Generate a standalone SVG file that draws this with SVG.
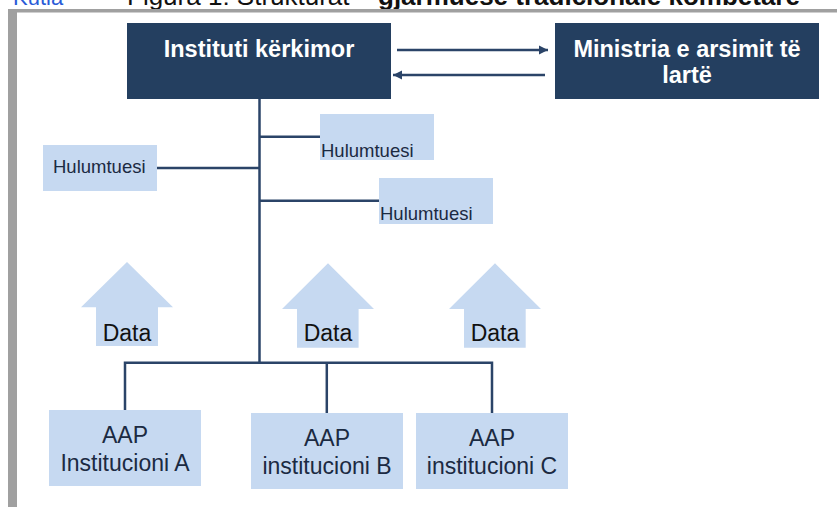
<svg xmlns="http://www.w3.org/2000/svg" width="837" height="507" viewBox="0 0 837 507">
<defs>
<style>
.frame{fill:#a0a0a0}
.dark{fill:#243f60}
.light{fill:#c6d9f1}
.conn{stroke:#2b4468;stroke-width:2.5;fill:none}
.tw{font-family:"Liberation Sans",Arial,sans-serif;font-weight:bold;font-size:23.5px;fill:#ffffff;text-anchor:middle}
.th{font-family:"Liberation Sans",Arial,sans-serif;font-size:18.5px;fill:#1b2a42}
.tb{font-family:"Liberation Sans",Arial,sans-serif;font-size:23px;fill:#1b2a42;text-anchor:middle}
.td{font-family:"Liberation Sans",Arial,sans-serif;font-size:23px;fill:#111111;text-anchor:middle}
.cap{font-family:"Liberation Sans",Arial,sans-serif;font-size:26px;fill:#111111}
</style>
<marker id="ah" markerUnits="userSpaceOnUse" markerWidth="10" markerHeight="10" refX="9" refY="5" orient="auto">
<path d="M0,0.5 L9,5 L0,9.5 z" fill="#2b4468"/>
</marker>
</defs>
<rect width="837" height="507" fill="#ffffff"/>
<g id="caption">
<text x="13" y="4.5" class="cap" style="fill:#2a5bd7;font-size:22px">Kutia</text>
<text x="127" y="4.5" class="cap">Figura 1: Strukturat <tspan x="378" font-weight="bold">gjarmuese tradicionale kombëtare</tspan></text>
</g>
<g id="frame">
<rect x="8" y="9" width="829" height="3.5" class="frame"/>
<rect x="8" y="9" width="9" height="498" class="frame"/>
</g>
<g id="connectors">
<line x1="397" y1="50" x2="548" y2="50" class="conn" marker-end="url(#ah)"/>
<line x1="545" y1="75" x2="393" y2="75" class="conn" marker-end="url(#ah)"/>
<line x1="259.5" y1="99" x2="259.5" y2="362.7" class="conn"/>
<line x1="259.5" y1="136.7" x2="320" y2="136.7" class="conn"/>
<line x1="157" y1="168" x2="259.5" y2="168" class="conn"/>
<line x1="259.5" y1="200.7" x2="379" y2="200.7" class="conn"/>
<polyline points="125,410 125,362.7 492,362.7 492,413" class="conn"/>
<line x1="326.8" y1="362.7" x2="326.8" y2="413" class="conn"/>
</g>
<g id="instituti">
<rect x="127" y="23" width="264" height="76" class="dark"/>
<text x="259" y="57" class="tw">Instituti kërkimor</text>
</g>
<g id="ministria">
<rect x="555" y="23" width="264" height="76" class="dark"/>
<text x="687" y="57" class="tw">Ministria e arsimit të</text>
<text x="687" y="83" class="tw">lartë</text>
</g>
<g id="hulumtuesi-1">
<rect x="43" y="145" width="114" height="46" class="light"/>
<text x="53" y="172.7" class="th">Hulumtuesi</text>
</g>
<g id="hulumtuesi-2">
<rect x="320" y="114" width="114" height="46" class="light"/>
<text x="321" y="157" class="th">Hulumtuesi</text>
</g>
<g id="hulumtuesi-3">
<rect x="379" y="178" width="114" height="46" class="light"/>
<text x="380" y="220" class="th">Hulumtuesi</text>
</g>
<g id="data-1">
<polygon points="127,262 173,307.3 158,307.3 158,346 96,346 96,307.3 81,307.3" class="light"/>
<text x="127" y="340.7" class="td">Data</text>
</g>
<g id="data-2">
<polygon points="328,263.3 374,309 358.6,309 358.6,347.7 297,347.7 297,309 282,309" class="light"/>
<text x="328" y="341" class="td">Data</text>
</g>
<g id="data-3">
<polygon points="495,263.3 541,309 525.7,309 525.7,347.7 464,347.7 464,309 449,309" class="light"/>
<text x="495" y="341" class="td">Data</text>
</g>
<g id="aap-a">
<rect x="49" y="410" width="152" height="76" class="light"/>
<text x="125" y="443.3" class="tb">AAP</text>
<text x="125" y="471" class="tb">Institucioni A</text>
</g>
<g id="aap-b">
<rect x="251" y="413" width="152" height="76" class="light"/>
<text x="327" y="446" class="tb">AAP</text>
<text x="327" y="474" class="tb">institucioni B</text>
</g>
<g id="aap-c">
<rect x="416" y="413" width="152" height="76" class="light"/>
<text x="492" y="446" class="tb">AAP</text>
<text x="492" y="474" class="tb">institucioni C</text>
</g>
</svg>
